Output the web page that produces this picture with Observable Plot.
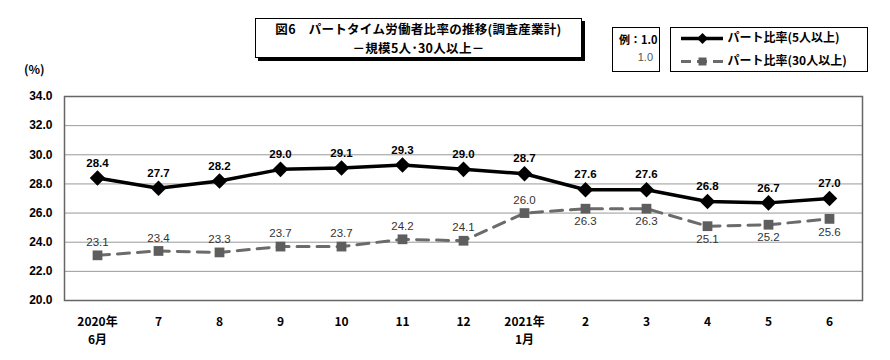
<!DOCTYPE html>
<html><head><meta charset="utf-8">
<script src="https://cdn.jsdelivr.net/npm/d3@7"></script>
<script src="https://cdn.jsdelivr.net/npm/@observablehq/plot@0.6"></script>
<style>
body{margin:0;background:#fff;font-family:"Noto Sans CJK JP",sans-serif;}
#wrap{position:relative;width:890px;height:360px;}
.box{position:absolute;border:1px solid #000;background:#fff;box-sizing:border-box;}
#title{left:255px;top:18px;width:327px;height:40px;box-shadow:3px 3px 0 #000;font-weight:bold;font-size:12.5px;text-align:center;letter-spacing:0.3px;}
#title div{position:absolute;left:0;right:0;line-height:18px;height:18px;}
#ex{left:612px;top:27px;width:48px;height:45px;font-size:11px;}
#leg{left:670px;top:27px;width:198px;height:45px;font-size:12px;font-weight:bold;}
#pct{position:absolute;left:24px;top:60px;font-size:12px;font-weight:bold;}
</style></head><body>
<div id="wrap">
<div id="chart"></div>
<div class="box" id="title"><div style="top:1px">図6　パートタイム労働者比率の推移(調査産業計)</div><div style="top:20px">－規模5人･30人以上－</div></div>
<div class="box" id="ex"><div style="position:absolute;left:6px;top:3px;font-weight:bold;">例：1.0</div><div style="position:absolute;right:6px;top:23px;color:#555;font-family:'Liberation Sans Narrow',sans-serif;">1.0</div></div>
<div class="box" id="leg"></div>
<div id="pct">(%)</div>
</div>
<script>
const months = ["2020年\n6月","7","8","9","10","11","12","2021年\n1月","2","3","4","5","6"];
const part5 = [28.4,27.7,28.2,29.0,29.1,29.3,29.0,28.7,27.6,27.6,26.8,26.7,27.0];
const part30 = [23.1,23.4,23.3,23.7,23.7,24.2,24.1,26.0,26.3,26.3,25.1,25.2,25.6];
const labelBelow30 = [false,false,false,false,false,false,false,false,true,true,true,true,true];
const yTicks = [20,22,24,26,28,30,32,34];
const seriesNames = ["パート比率(5人以上)","パート比率(30人以上)"];

const d5 = months.map((m,i)=>({m, v:part5[i]}));
const d30 = months.map((m,i)=>({m, v:part30[i], below:labelBelow30[i]}));

const chart = Plot.plot({
  width: 890, height: 360,
  marginLeft: 64, marginRight: 28, marginTop: 96, marginBottom: 60,
  style: {fontFamily: "'Noto Sans CJK JP', sans-serif", background: "#fff"},
  x: {type: "point", domain: months, padding: 0.5, axis: null},
  y: {domain: [20,34], axis: null},
  marks: [
    Plot.ruleY(yTicks.slice(1,-1), {stroke: "#999", strokeWidth: 1}),
    Plot.frame({stroke: "#666", strokeWidth: 1.5}),
    Plot.text(yTicks, {frameAnchor: "left", y: d=>d, text: d=>d.toFixed(1), dx: -12, textAnchor: "end", fontSize: 12, fontWeight: "bold", fill: "#000", fontFamily: "'Liberation Sans Narrow', sans-serif"}),
    Plot.text(months, {x: d=>d, frameAnchor: "bottom", text: d=>d, dy: 12, lineAnchor: "top", fontSize: 12, fontWeight: "bold", lineHeight: 1.55, fill: "#000"}),
    Plot.line(d30, {x: "m", y: "v", stroke: "#6b6b6b", strokeWidth: 3, strokeDasharray: "12,8"}),
    Plot.dot(d30, {x: "m", y: "v", symbol: "square", r: 5.5, fill: "#5e5e5e", stroke: "none"}),
    Plot.line(d5, {x: "m", y: "v", stroke: "#000", strokeWidth: 3.5}),
    Plot.dot(d5, {x: "m", y: "v", symbol: "diamond2", r: 7, fill: "#000", stroke: "none"}),
    Plot.text(d5, {x: "m", y: "v", text: d=>d.v.toFixed(1), dy: -15, fontSize: 11.5, fontWeight: "bold", fill: "#000", fontFamily: "'Liberation Sans Narrow', sans-serif"}),
    Plot.text(d30.filter(d=>!d.below), {x: "m", y: "v", text: d=>d.v.toFixed(1), dy: -13, fontSize: 11.5, fill: "#333", fontFamily: "'Liberation Sans Narrow', sans-serif"}),
    Plot.text(d30.filter(d=>d.below), {x: "m", y: "v", text: d=>d.v.toFixed(1), dy: 13, fontSize: 11.5, fill: "#333", fontFamily: "'Liberation Sans Narrow', sans-serif"})
  ]
});
document.getElementById("chart").appendChild(chart);

const legData = seriesNames.map((n,i)=>({n, i}));
const leg = Plot.plot({
  width: 196, height: 43, margin: 0,
  x: {domain: [0,196], axis: null}, y: {domain: [0,43], reverse: true, axis: null},
  style: {fontFamily: "'Noto Sans CJK JP', sans-serif", background: "transparent"},
  marks: [
    Plot.ruleY([10], {x1: 10, x2: 52, stroke: "#000", strokeWidth: 3.5}),
    Plot.dot([{x:31,y:10}], {x:"x", y:"y", symbol:"diamond2", r:5, fill:"#000"}),
    Plot.ruleY([33], {x1: 10, x2: 52, stroke: "#6b6b6b", strokeWidth: 3, strokeDasharray: "10,6"}),
    Plot.dot([{x:31,y:33}], {x:"x", y:"y", symbol:"square", r:4.5, fill:"#5e5e5e"}),
    Plot.text(legData, {x: 56, y: d=>d.i ? 33 : 10, text: "n", textAnchor: "start", fontSize: 12, fontWeight: "bold", fill: "#000"})
  ]
});
document.getElementById("leg").appendChild(leg);
</script>
</body></html>
